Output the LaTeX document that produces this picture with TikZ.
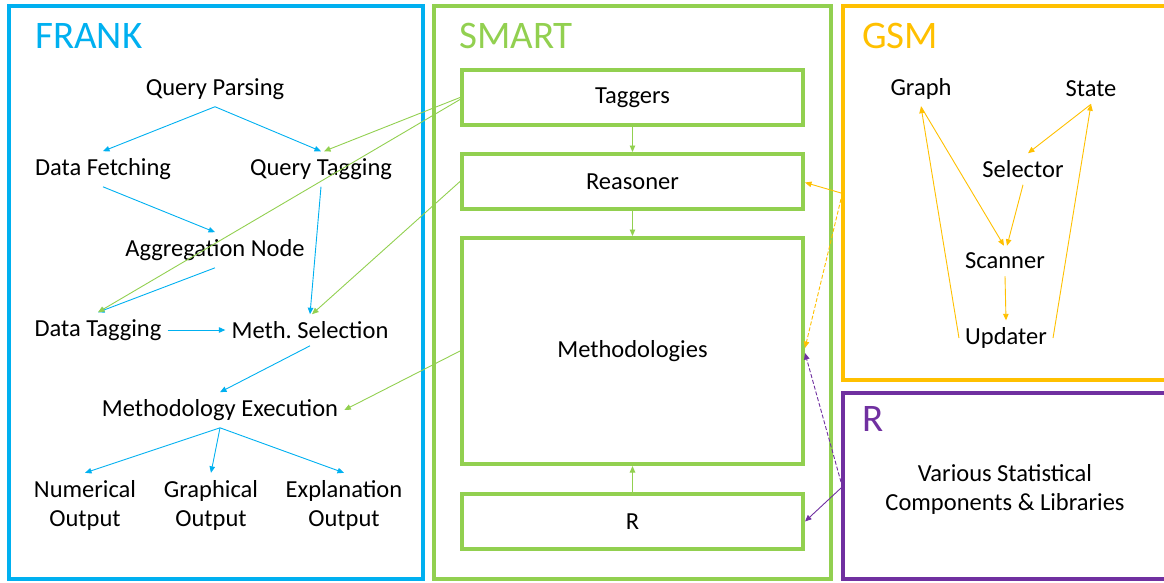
\documentclass[tikz,border=0pt]{standalone}
\usepackage{fontspec}
\setmainfont{Carlito}
\usetikzlibrary{arrows.meta}
\definecolor{frankblue}{HTML}{00B0F0}
\definecolor{smartgreen}{HTML}{92D050}
\definecolor{gsmyellow}{HTML}{FFC000}
\definecolor{rpurple}{HTML}{7030A0}

\begin{document}
\begin{tikzpicture}[x=1pt,y=-1pt,
  panel/.style={line width=4pt},
  paneltitle/.style={anchor=west, inner sep=0pt, font=\fontsize{39}{39}\selectfont},
  lbl/.style={font=\fontsize{24.5}{29}\selectfont, align=center, inner xsep=6pt, inner ysep=7pt},
  inbox/.style={draw=smartgreen, line width=4pt, minimum width=341pt, minimum height=55pt,
    font=\fontsize{24.5}{29}\selectfont},
  link/.style={line width=0.9pt, -{Triangle[length=6.5pt,width=5.5pt]}},
  blink/.style={link, draw=frankblue},
  glink/.style={link, draw=smartgreen},
  ylink/.style={link, draw=gsmyellow},
  plink/.style={link, draw=rpurple},
  dashlink/.style={dash pattern=on 4pt off 2pt},
]
\useasboundingbox (0,0) rectangle (1164,582);
\clip (0,0) rectangle (1164,582);

% ---------- panels ----------
\draw[panel, frankblue]  (9,6)   rectangle (423,579);
\draw[panel, smartgreen] (434,6) rectangle (831,579);
\draw[panel, gsmyellow]  (843,6) rectangle (1175,380);
\draw[panel, rpurple]    (843,393) rectangle (1175,579);

\node[paneltitle, text=frankblue]  (tfrank) at (35,36)  {FRANK};
\node[paneltitle, text=smartgreen] (tsmart) at (459,36) {SMART};
\node[paneltitle, text=gsmyellow]  (tgsm)   at (862,36) {GSM};
\node[paneltitle, text=rpurple]    (tr)     at (862,419) {R};

% ---------- FRANK pipeline ----------
\node[lbl] (qp)  at (215,89)  {Query Parsing};
\node[lbl] (df)  at (103,169) {Data Fetching};
\node[lbl] (qt)  at (321,169) {Query Tagging};
\node[lbl] (agg) at (215,250) {Aggregation Node};
\node[lbl] (dt)  at (98,330)  {Data Tagging};
\node[lbl] (ms)  at (310,330) {Meth.\ Selection};
\node[lbl] (me)  at (220,410) {Methodology Execution};
\node[lbl] (num) at (85,505)  {Numerical\\Output};
\node[lbl] (gra) at (211,505) {Graphical\\Output};
\node[lbl] (exp) at (344,505) {Explanation\\Output};

\draw[blink] (qp.south) -- (df.north);
\draw[blink] (qp.south) -- (qt.north);
\draw[blink] (df.south) -- (agg.north);
\draw[blink] (qt.south) -- (ms.north);
\draw[blink] (agg.south) -- (dt.north);
\draw[blink] (dt.east) -- (ms.west);
\draw[blink] (ms.south) -- (me.north);
\draw[blink] (me.south) -- (num.north);
\draw[blink] (me.south) -- (gra.north);
\draw[blink] (me.south) -- (exp.north);

% ---------- SMART components ----------
\node[inbox] (tag)  at (632.5,97.5)  {\raisebox{-1.5pt}{Taggers}};
\node[inbox] (rea)  at (632.5,181.5) {\raisebox{-1.5pt}{Reasoner}};
\node[inbox, minimum height=226pt] (meth) at (632.5,351) {\raisebox{-1.5pt}{Methodologies}};
\node[inbox] (rsm)  at (632.5,521.5) {R};

\draw[glink] (tag.south) -- (rea.north);
\draw[glink] (rea.south) -- (meth.north);
\draw[glink] (rsm.north) -- (meth.south);

\draw[glink] (tag.west) -- ([xshift=3pt]qt.north);
\draw[glink] ([yshift=-2pt]tag.west) -- (dt.north);
\draw[glink] (rea.west) -- ([xshift=2pt]ms.north);
\draw[glink] (meth.west) -- (me.east);

% ---------- GSM ----------
\node[lbl] (graph) at (921,89)   {Graph};
\node[lbl] (state) at (1091,89)  {State};
\node[lbl] (sel)   at (1023,169) {Selector};
\node[lbl] (scan)  at (1005,261) {Scanner};
\node[lbl] (upd)   at (1006,338) {Updater};

\draw[ylink] (state.south) -- ([xshift=5pt]sel.north);
\draw[ylink] (graph.south) -- ([xshift=-1pt]scan.north);
\draw[ylink] (sel.south) -- ([xshift=2pt]scan.north);
\draw[ylink] (scan.south) -- (upd.north);
\draw[ylink] (upd.west) -- (graph.south);
\draw[ylink] (upd.east) -- (state.south);

\coordinate (gsmA) at (841,193);
\coordinate (gsmB) at (841,199);
\draw[ylink] (gsmA) -- ([yshift=-1pt]rea.east);
\draw[ylink, dashlink] (gsmB) -- ([yshift=3pt]meth.east);

% ---------- R ----------
\node[lbl] (rlib) at (1005,489) {Various Statistical\\Components \& Libraries};

\coordinate (rA) at (841,482);
\coordinate (rB) at (841,488);
\draw[plink, dashlink] (rA) -- ([yshift=-2pt]meth.east);
\draw[plink] (rB) -- (rsm.east);
\end{tikzpicture}
\end{document}
